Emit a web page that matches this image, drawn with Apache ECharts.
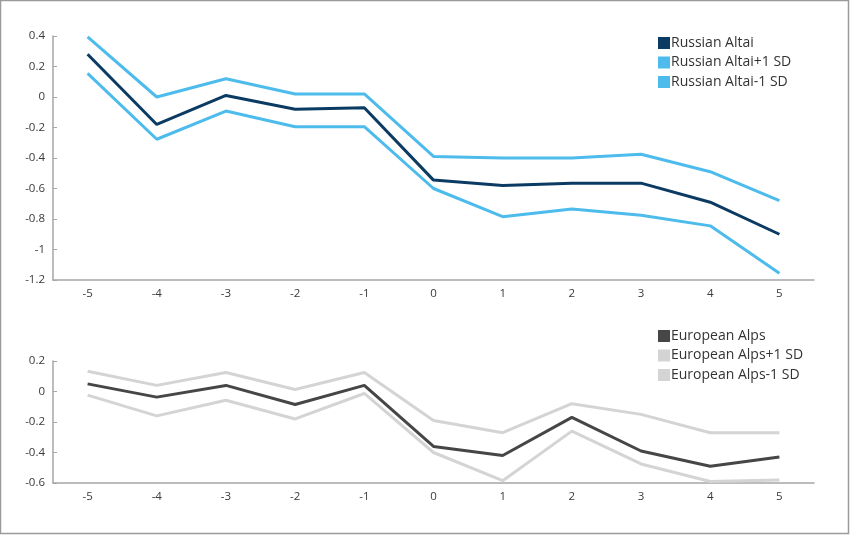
<!DOCTYPE html>
<html>
<head>
<meta charset="utf-8">
<script src="https://cdn.jsdelivr.net/npm/echarts@6/dist/echarts.min.js"></script>
<style>
html,body{margin:0;padding:0;background:#fff;}
#c{width:850px;height:535px;}
</style>
</head>
<body>
<div id="c"></div>
<script>
var categories = ['-5','-4','-3','-2','-1','0','1','2','3','4','5'];
var altai      = [0.28, -0.18, 0.01, -0.08, -0.07, -0.545, -0.58, -0.565, -0.565, -0.69, -0.90];
var altaiPlus  = [0.395, 0.0, 0.12, 0.02, 0.02, -0.39, -0.40, -0.40, -0.375, -0.49, -0.68];
var altaiMinus = [0.155, -0.277, -0.092, -0.195, -0.195, -0.60, -0.785, -0.735, -0.775, -0.845, -1.155];
var alps       = [0.05, -0.037, 0.04, -0.085, 0.04, -0.36, -0.42, -0.17, -0.39, -0.49, -0.43];
var alpsPlus   = [0.133, 0.04, 0.125, 0.013, 0.125, -0.19, -0.27, -0.08, -0.15, -0.27, -0.27];
var alpsMinus  = [-0.024, -0.16, -0.057, -0.18, -0.013, -0.40, -0.585, -0.26, -0.475, -0.59, -0.58];

var FONT = '"Open Sans", sans-serif';
var axisCol = '#a6a6a6';
var labCol = '#3a3a3a';

function xAx(gi){
  return {
    type:'category', gridIndex:gi, data:categories, boundaryGap:true,
    axisLine:{onZero:false,lineStyle:{color:axisCol,width:1.5}},
    axisTick:{inside:true,length:4,alignWithLabel:true,lineStyle:{color:axisCol}},
    axisLabel:{color:labCol,fontFamily:FONT,fontSize:11.5,margin:8},
    splitLine:{show:false}
  };
}
function yAx(gi,min,max){
  return {
    type:'value', gridIndex:gi, min:min, max:max, interval:0.2,
    axisLine:{show:true,onZero:false,lineStyle:{color:axisCol,width:1.5}},
    axisTick:{show:true,inside:true,length:4,lineStyle:{color:axisCol}},
    axisLabel:{color:labCol,fontFamily:FONT,fontSize:11.5,margin:8,
      formatter:function(v){return String(Math.round(v*10)/10);}},
    splitLine:{show:false}
  };
}
function ser(name,data,gi,color){
  return {name:name,type:'line',xAxisIndex:gi,yAxisIndex:gi,data:data,
    symbol:'none',lineStyle:{width:3,color:color},itemStyle:{color:color},z:2};
}
var chart = echarts.init(document.getElementById('c'),null,{renderer:'canvas'});
chart.setOption({
  animation:false,
  backgroundColor:'#fff',
  graphic:[{type:'rect',shape:{x:0.5,y:0.5,width:848,height:533},
    style:{fill:'none',stroke:'#9a9a9a',lineWidth:1.5},silent:true}],
  grid:[
    {left:53,right:36,top:36,bottom:255},
    {left:53,right:36,top:361,bottom:52}
  ],
  xAxis:[xAx(0),xAx(1)],
  yAxis:[yAx(0,-1.2,0.4),yAx(1,-0.6,0.2)],
  legend:[
    {data:['Russian Altai','Russian Altai+1 SD','Russian Altai-1 SD'],
     orient:'vertical',left:653,top:31,icon:'rect',itemWidth:12,itemHeight:12,itemGap:5.5,
     textStyle:{color:'#333',fontFamily:FONT,fontSize:14,padding:[0,0,0,-4]}},
    {data:['European Alps','European Alps+1 SD','European Alps-1 SD'],
     orient:'vertical',left:653,top:324,icon:'rect',itemWidth:12,itemHeight:12,itemGap:5.5,
     textStyle:{color:'#333',fontFamily:FONT,fontSize:14,padding:[0,0,0,-4]}}
  ],
  series:[
    ser('Russian Altai+1 SD',altaiPlus,0,'#4dbbeb'),
    ser('Russian Altai-1 SD',altaiMinus,0,'#4dbbeb'),
    ser('Russian Altai',altai,0,'#0b3b63'),
    ser('European Alps+1 SD',alpsPlus,1,'#d4d4d4'),
    ser('European Alps-1 SD',alpsMinus,1,'#d4d4d4'),
    ser('European Alps',alps,1,'#464646')
  ]
});
</script>
</body>
</html>
